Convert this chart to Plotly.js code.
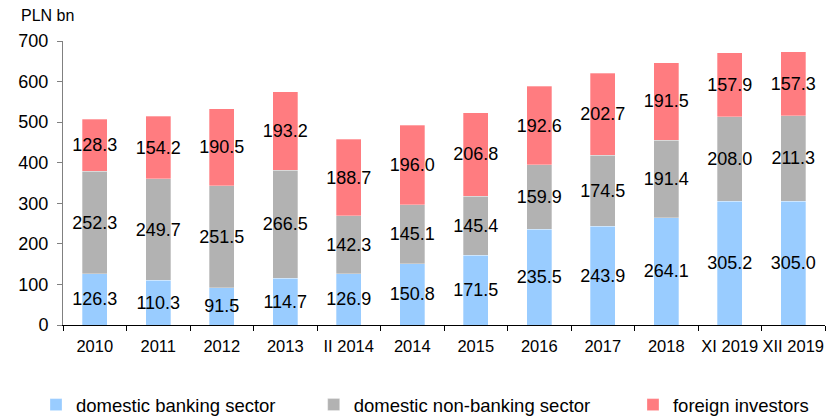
<!DOCTYPE html>
<html><head><meta charset="utf-8">
<script src="https://cdn.plot.ly/plotly-3.0.1.min.js"></script>
<style>body{margin:0;background:#fff}#c{width:840px;height:418px}</style>
</head><body><div id="c"></div>
<script>
const categories = ["2010","2011","2012","2013","II 2014","2014","2015","2016","2017","2018","XI 2019","XII 2019"];
const domesticBanking = [126.3,110.3,91.5,114.7,126.9,150.8,171.5,235.5,243.9,264.1,305.2,305.0];
const domesticNonBanking = [252.3,249.7,251.5,266.5,142.3,145.1,145.4,159.9,174.5,191.4,208.0,211.3];
const foreignInvestors = [128.3,154.2,190.5,193.2,188.7,196.0,206.8,192.6,202.7,191.5,157.9,157.3];
const seriesNames = ["domestic banking sector","domestic non-banking sector","foreign investors"];
const colors = ["#99CCFF","#B2B2B2","#FF7C80"];

const FONT = "Liberation Sans, Arial, sans-serif";
function mk(vals, i, legend){
  return {
    type:"bar", x:categories, y:vals, name:seriesNames[i],
    marker:{color:colors[i], line:{color:"rgba(255,255,255,0.6)", width:0.5}},
    text: vals.map(v=>v.toFixed(1)), textposition:"inside", insidetextanchor:"middle",
    constraintext:"none", textangle:0, cliponaxis:false,
    textfont:{family:FONT, size:18, color:"#000"},
    hoverinfo:"skip", width:0.4, legend:legend
  };
}
const data = [mk(domesticBanking,0,"legend"), mk(domesticNonBanking,1,"legend2"), mk(foreignInvestors,2,"legend3")];
const legBase = {orientation:"h", xref:"paper", yref:"paper", y:-0.282, yanchor:"middle", xanchor:"left",
  font:{family:FONT, size:18.5, color:"#000"}, itemwidth:30, bgcolor:"rgba(0,0,0,0)", tracegroupgap:0};
const layout = {
  width:840, height:418,
  margin:{l:63, r:15, t:41, b:93, autoexpand:false},
  paper_bgcolor:"#fff", plot_bgcolor:"#fff",
  barmode:"stack", bargap:0.6,
  font:{family:FONT, size:16, color:"#000"},
  showlegend:true,
  legend: Object.assign({}, legBase, {x:-0.0354}),
  legend2: Object.assign({}, legBase, {x:0.329}),
  legend3: Object.assign({}, legBase, {x:0.748}),
  xaxis:{type:"category", showline:true, linecolor:"#000", linewidth:1, ticks:"outside", tickson:"boundaries",
    ticklen:5, tickcolor:"#000", showgrid:false, tickangle:0, automargin:false, ticklabelstandoff:6,
    tickfont:{family:FONT,size:16.5,color:"#000"}, fixedrange:true},
  yaxis:{range:[0,700], dtick:100, showline:true, linecolor:"#808080", linewidth:1, ticks:"outside", ticklen:5,
    tickcolor:"#808080", showgrid:false, zeroline:false, automargin:false, ticklabelstandoff:5,
    tickfont:{family:FONT,size:18,color:"#000"}, fixedrange:true},
  annotations:[{text:"PLN bn", xref:"paper", yref:"paper", x:-0.058, y:1.0915, xanchor:"left", yanchor:"middle",
    showarrow:false, font:{family:FONT,size:16,color:"#000"}}]
};
Plotly.newPlot("c", data, layout, {staticPlot:true, displayModeBar:false});
</script></body></html>
